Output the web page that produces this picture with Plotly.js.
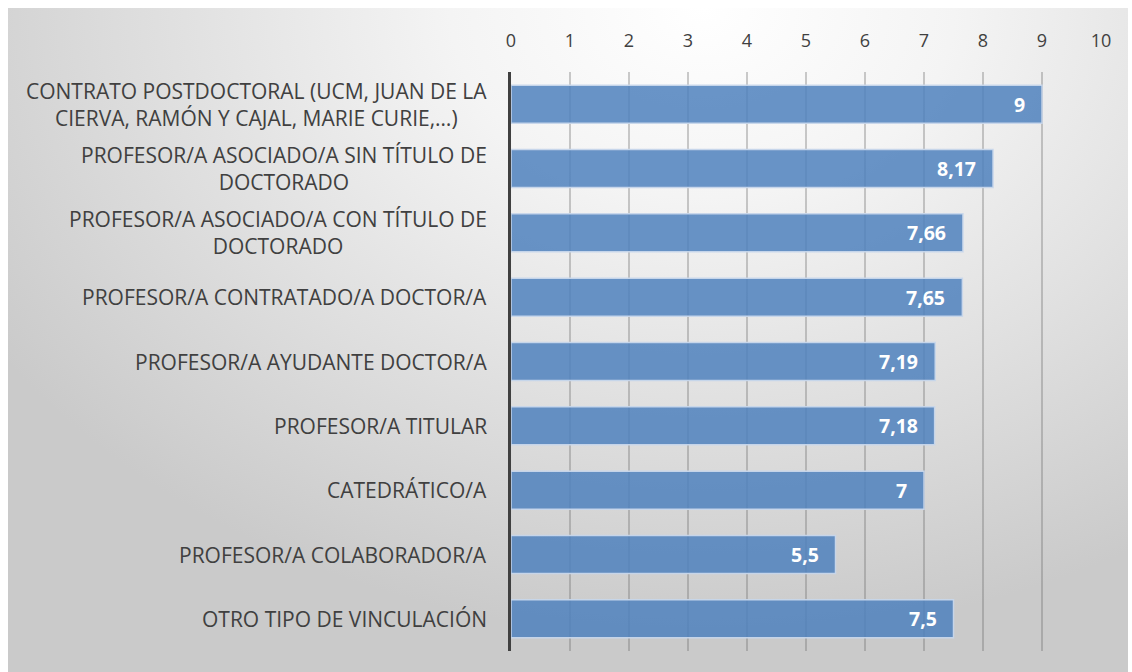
<!DOCTYPE html>
<html>
<head>
<meta charset="utf-8">
<script src="https://cdn.plot.ly/plotly-3.0.1.min.js"></script>
<style>
  html, body { margin: 0; padding: 0; background: #ffffff; }
  #bg { position: absolute; left: 8px; top: 8px; width: 1120px; height: 664px;
        background: radial-gradient(ellipse 75% 95% at 62% 0%, #ffffff 0%, #f4f4f4 30%, #dcdcdc 70%, #cacaca 100%); }
  #chart { position: absolute; left: 0; top: 0; width: 1132px; height: 672px; }
</style>
</head>
<body>
<div id="bg"></div>
<div id="chart"></div>
<script>
const categories = [
  "CONTRATO POSTDOCTORAL (UCM, JUAN DE LA<br>CIERVA, RAMÓN Y CAJAL, MARIE CURIE,…)",
  "PROFESOR/A ASOCIADO/A SIN TÍTULO DE<br>DOCTORADO",
  "PROFESOR/A ASOCIADO/A CON TÍTULO DE<br>DOCTORADO",
  "PROFESOR/A CONTRATADO/A DOCTOR/A",
  "PROFESOR/A AYUDANTE DOCTOR/A",
  "PROFESOR/A TITULAR",
  "CATEDRÁTICO/A",
  "PROFESOR/A COLABORADOR/A",
  "OTRO TIPO DE VINCULACIÓN"
];
const values = [9, 8.17, 7.66, 7.65, 7.19, 7.18, 7, 5.5, 7.5];
const tickVals = [0,1,2,3,4,5,6,7,8,9,10];

const labelText = values.map(v => String(v).replace('.', ','));

const trace = {
  type: 'bar',
  orientation: 'h',
  y: categories,
  x: values,
  width: 0.59,
  marker: { color: 'rgba(79,129,189,0.85)', line: { color: 'rgba(200,215,235,0.95)', width: 1.5 } },
  hoverinfo: 'none'
};

const annotations = [];
categories.forEach((c, i) => {
  annotations.push({
    xref: 'paper', yref: 'y', x: 0, y: c, xanchor: 'right', yanchor: 'middle',
    xshift: -22, text: c, showarrow: false, align: 'center',
    font: { family: 'Open Sans', size: 21, color: '#404040' }
  });
  annotations.push({
    xref: 'x', yref: 'y', x: values[i], y: c, xanchor: 'right', yanchor: 'middle',
    xshift: -15, text: labelText[i], showarrow: false,
    font: { family: 'Open Sans', size: 19.5, color: '#ffffff', weight: 'bold' }
  });
});

const layout = {
  width: 1132, height: 672,
  margin: { l: 511, r: 31, t: 72, b: 21 },
  paper_bgcolor: 'rgba(0,0,0,0)',
  plot_bgcolor: 'rgba(0,0,0,0)',
  showlegend: false,
  bargap: 0.41,
  xaxis: {
    side: 'top', range: [0, 10], tickvals: tickVals, ticktext: tickVals.map(String),
    showgrid: true, gridcolor: 'rgba(110,110,110,0.35)', gridwidth: 1.5,
    zeroline: false, showline: false, ticks: '', ticklabelstandoff: 20,
    tickfont: { family: 'Open Sans', size: 18, color: '#404040' }
  },
  yaxis: {
    categoryorder: 'array', categoryarray: categories, autorange: 'reversed',
    showticklabels: false, showgrid: false, zeroline: false,
    showline: true, linecolor: '#404040', linewidth: 3, ticks: ''
  },
  annotations: annotations
};

Plotly.newPlot('chart', [trace], layout, { displayModeBar: false, staticPlot: true });
</script>
</body>
</html>
